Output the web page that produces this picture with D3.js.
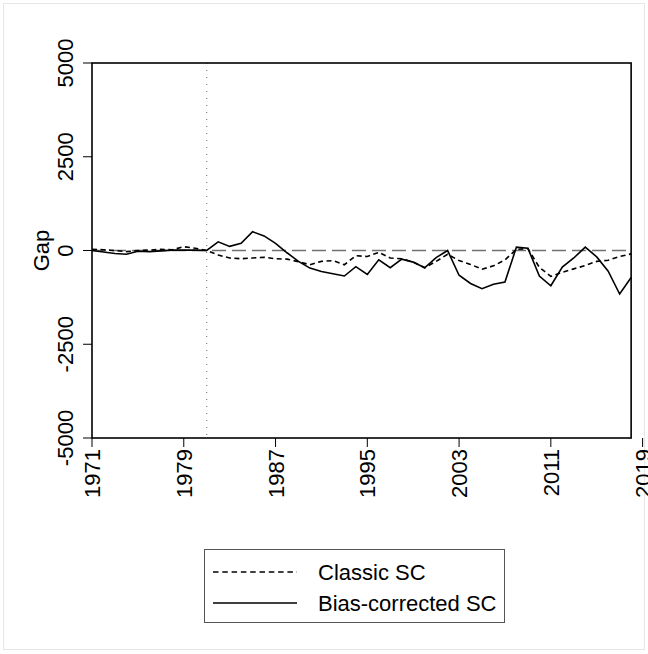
<!DOCTYPE html>
<html>
<head>
<meta charset="utf-8">
<script src="https://cdn.jsdelivr.net/npm/d3@7"></script>
<style>
  body { margin: 0; background: #fff; }
  svg text { font-family: "Liberation Sans", Arial, Helvetica, sans-serif; fill: #000; }
</style>
</head>
<body>
<svg id="chart" width="648" height="654"></svg>
<script>
// years shown on the x axis
const years = d3.range(1971, 2019);
const xTicks = [1971, 1979, 1987, 1995, 2003, 2011, 2019];
const yTicks = [-5000, -2500, 0, 2500, 5000];
const treatYear = 1981;

// gap estimates
const classicSC = [30, 20, 0, -30, 0, 10, 30, 20, 100, 60,
  0, -120, -200, -220, -200, -180, -220, -230, -300, -380,
  -290, -270, -380, -140, -160, -50, -200, -220, -310, -460,
  -290, -100, -270, -370, -500, -410, -250, 30, 50, -450,
  -690, -580, -490, -400, -290, -260, -160, -90];
const biasCorrectedSC = [0, -40, -80, -100, -20, -30, -10, 10, 10, 10,
  0, 230, 110, 190, 500, 390, 190, -60, -290, -470,
  -560, -620, -680, -430, -640, -250, -460, -230, -310, -460,
  -190, 0, -660, -880, -1020, -900, -840, 90, 60, -680,
  -940, -440, -200, 90, -170, -550, -1160, -720];

const fontPx = 22;
const svg = d3.select("#chart");

// faint outer frame of the graph region
svg.append("rect")
  .attr("x", 3.5).attr("y", 3.5).attr("width", 641).attr("height", 646)
  .attr("fill", "none").attr("stroke", "#e6e6e6");

const x = d3.scaleLinear().domain([1971, 2019]).range([92, 642.6]);
const y = d3.scaleLinear().domain([-5000, 5000]).range([438, 63]);

const pLeft = x(1971), pRight = x(2018), pTop = y(5000), pBottom = y(-5000);

// zero reference line
svg.append("line")
  .attr("x1", pLeft).attr("x2", pRight).attr("y1", y(0)).attr("y2", y(0))
  .attr("stroke", "#707070").attr("stroke-width", 1.6)
  .attr("stroke-dasharray", "14,6");

// treatment year
svg.append("line")
  .attr("x1", x(treatYear)).attr("x2", x(treatYear)).attr("y1", pTop).attr("y2", pBottom)
  .attr("stroke", "#666").attr("stroke-width", 1)
  .attr("stroke-dasharray", "1,6");

const line = d3.line().x((d, i) => x(years[i])).y((d) => y(d));

svg.append("path").datum(classicSC)
  .attr("d", line).attr("fill", "none")
  .attr("stroke", "#000").attr("stroke-width", 1.6)
  .attr("stroke-dasharray", "5,3.5");

svg.append("path").datum(biasCorrectedSC)
  .attr("d", line).attr("fill", "none")
  .attr("stroke", "#000").attr("stroke-width", 1.6);

// plot frame
svg.append("rect")
  .attr("x", pLeft).attr("y", pTop).attr("width", pRight - pLeft).attr("height", pBottom - pTop)
  .attr("fill", "none").attr("stroke", "#000").attr("stroke-width", 1.6);

// y axis
const yAxis = svg.append("g");
yAxis.selectAll("line").data(yTicks).enter().append("line")
  .attr("x1", pLeft - 9).attr("x2", pLeft).attr("y1", (d) => y(d)).attr("y2", (d) => y(d))
  .attr("stroke", "#000").attr("stroke-width", 1);
yAxis.selectAll("text").data(yTicks).enter().append("text")
  .attr("transform", (d) => `translate(${pLeft - 19},${y(d)}) rotate(-90)`)
  .attr("text-anchor", "middle")
  .style("font-size", fontPx + "px")
  .text((d) => d);

svg.append("text")
  .attr("transform", `translate(49,${y(0)}) rotate(-90)`)
  .attr("text-anchor", "middle")
  .style("font-size", fontPx + "px")
  .text("Gap");

// x axis
const xAxis = svg.append("g");
xAxis.selectAll("line").data(xTicks).enter().append("line")
  .attr("x1", (d) => x(d)).attr("x2", (d) => x(d)).attr("y1", pBottom).attr("y2", pBottom + 9)
  .attr("stroke", "#000").attr("stroke-width", 1);
xAxis.selectAll("text").data(xTicks).enter().append("text")
  .attr("transform", (d) => `translate(${x(d) + 8},${pBottom + 11}) rotate(-90)`)
  .attr("text-anchor", "end")
  .style("font-size", fontPx + "px")
  .text((d) => d);

// legend
const legend = svg.append("g");
legend.append("rect")
  .attr("x", 204.5).attr("y", 549.5).attr("width", 300).attr("height", 73)
  .attr("fill", "#fff").attr("stroke", "#555").attr("stroke-width", 1);
const entries = [
  { label: "Classic SC", dash: "5.5,3.8" },
  { label: "Bias-corrected SC", dash: null }
];
entries.forEach((e, i) => {
  const ly = 572 + i * 31;
  legend.append("line")
    .attr("x1", 213).attr("x2", 297).attr("y1", ly).attr("y2", ly)
    .attr("stroke", "#000").attr("stroke-width", 1.6)
    .attr("stroke-dasharray", e.dash);
  legend.append("text")
    .attr("x", 318).attr("y", ly + 8)
    .style("font-size", fontPx + "px")
    .text(e.label);
});
</script>
</body>
</html>
